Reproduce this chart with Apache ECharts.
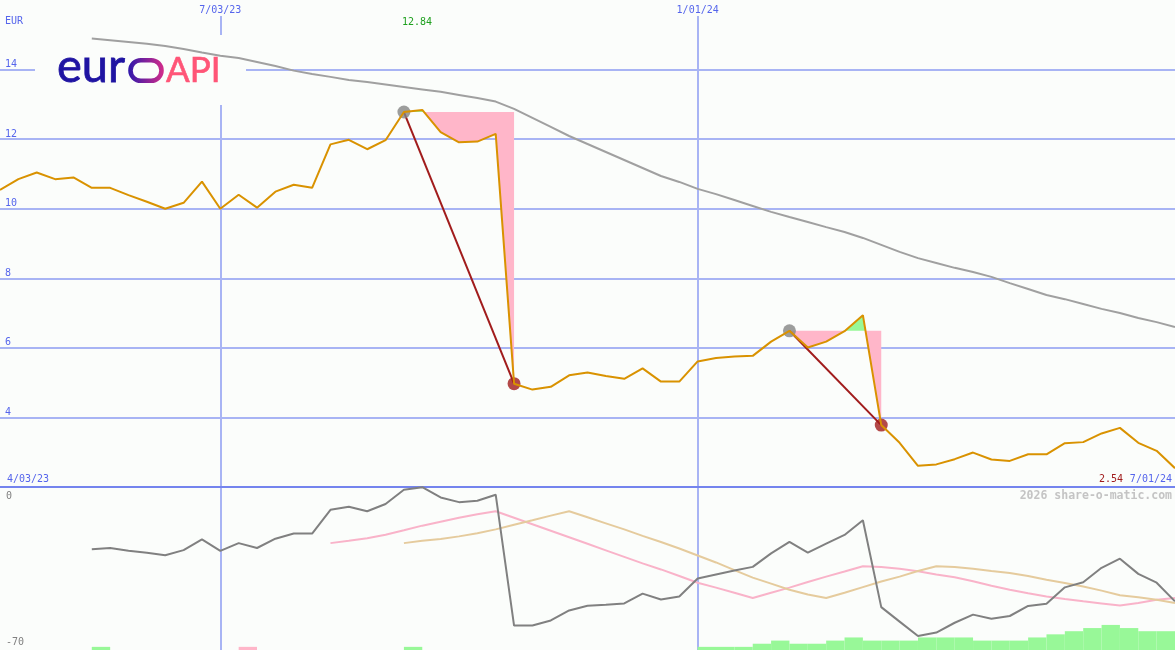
<!DOCTYPE html>
<html>
<head>
<meta charset="utf-8">
<script src="https://cdn.jsdelivr.net/npm/echarts@6/dist/echarts.min.js"></script>
<style>
html,body{margin:0;padding:0;background:#fbfdfb;}
#c{width:1175px;height:650px;}
</style>
</head>
<body>
<div id="c"></div>
<script>
// ---- data ----
const weeks = [
 '4/10/23','4/17/23','4/24/23','5/01/23','5/08/23','5/15/23','5/22/23','5/29/23','6/05/23','6/12/23',
 '6/19/23','6/26/23','7/03/23','7/10/23','7/17/23','7/24/23','7/31/23','8/07/23','8/14/23','8/21/23',
 '8/28/23','9/04/23','9/11/23','9/18/23','9/25/23','10/02/23','10/09/23','10/16/23','10/23/23','10/30/23',
 '11/06/23','11/13/23','11/20/23','11/27/23','12/04/23','12/11/23','12/18/23','12/25/23','1/01/24','1/08/24',
 '1/15/24','1/22/24','1/29/24','2/05/24','2/12/24','2/19/24','2/26/24','3/04/24','3/11/24','3/18/24',
 '3/25/24','4/01/24','4/08/24','4/15/24','4/22/24','4/29/24','5/06/24','5/13/24','5/20/24','5/27/24',
 '6/03/24','6/10/24','6/17/24','6/24/24','7/01/24'
];
const dateTicks = ['7/03/23', '1/01/24'];

const price = [
 10.54,10.85,11.04,10.85,10.90,10.60,10.60,10.39,10.20,10.00,
 10.17,10.78,10.00,10.40,10.03,10.49,10.69,10.60,11.85,11.98,
 11.71,11.97,12.78,12.84,12.20,11.91,11.93,12.15,4.97,4.80,
 4.88,5.21,5.29,5.19,5.11,5.41,5.03,5.03,5.61,5.71,
 5.75,5.77,6.18,6.49,6.01,6.18,6.48,6.94,3.78,3.27,
 2.61,2.65,2.80,2.99,2.79,2.75,2.94,2.94,3.26,3.29,
 3.54,3.70,3.27,3.04,2.54
];

const longAvgStart = 5;
const longAvg = [
 14.89,14.84,14.79,14.74,14.68,14.59,14.49,14.40,14.33,14.22,
 14.10,13.97,13.87,13.79,13.70,13.64,13.57,13.50,13.43,13.36,
 13.27,13.18,13.08,12.87,12.61,12.35,12.09,11.86,11.63,11.40,
 11.17,10.94,10.77,10.57,10.42,10.25,10.08,9.91,9.76,9.62,
 9.47,9.33,9.16,8.96,8.76,8.58,8.44,8.30,8.18,8.04,
 7.86,7.69,7.52,7.40,7.26,7.12,7.00,6.86,6.74,6.60
];

const oscStart = 5;
const osc = [
 -26.7,-26.2,-27.4,-28.2,-29.3,-27.1,-22.5,-27.4,-24.1,-26.2,
 -22.2,-20.0,-20.0,-9.8,-8.5,-10.4,-7.3,-1.2,-0.1,-4.5,
 -6.5,-5.9,-3.3,-59.5,-59.5,-57.3,-53.0,-51.0,-50.6,-50.0,
 -45.8,-48.3,-47.0,-39.3,-37.6,-35.9,-34.3,-28.5,-23.6,-28.2,
 -24.3,-20.6,-14.3,-51.6,-57.8,-64.0,-62.5,-58.3,-54.8,-56.6,
 -55.4,-51.1,-50.1,-43.1,-40.9,-34.7,-30.8,-37.3,-41.1,-49.1
];

const oscFastStart = 18;
const oscFast = [
 -24.1,-23.1,-22.0,-20.5,-18.6,-16.6,-14.9,-13.2,-11.7,-10.4,
 -13.2,-16.0,-18.8,-21.6,-24.4,-27.2,-30.0,-32.8,-35.4,-38.2,
 -41.1,-43.2,-45.4,-47.7,-45.4,-43.2,-40.8,-38.5,-36.3,-34.0,
 -34.4,-35.1,-36.2,-37.6,-38.8,-40.5,-42.4,-44.1,-45.6,-47.0,
 -48.1,-49.1,-50.0,-50.9,-49.8,-48.4,-47.7
];

const oscSlowStart = 22;
const oscSlow = [
 -24.1,-23.1,-22.3,-21.2,-19.9,-18.2,-16.2,-14.3,-12.3,-10.4,
 -13.0,-15.6,-18.2,-21.0,-23.6,-26.4,-29.4,-32.4,-35.7,-38.9,
 -41.5,-44.1,-46.2,-47.7,-45.4,-43.0,-40.6,-38.5,-36.1,-34.0,
 -34.4,-35.1,-36.1,-36.9,-38.2,-39.8,-41.2,-42.7,-44.5,-46.5,
 -47.3,-48.4,-49.8
];

// signal histogram per week interval (positive = green, negative = pink)
const signalBars = [
 0,0,0,0,0,1,0,0,0,0,
 0,0,0,-1,0,0,0,0,0,0,
 0,0,1,0,0,0,0,0,0,0,
 0,0,0,0,0,0,0,0,1,1,
 1,2,3,2,2,3,4,3,3,3,
 4,4,4,3,3,3,4,5,6,7,
 8,7,6,6
];

// trades: entry week index, exit week index
const trades = [
 {entry: 22, exit: 28},
 {entry: 43, exit: 48}
];

const maxLabel = '12.84';
const lastLabel = '2.54';
const startLabel = '4/03/23';
const endLabel = '7/01/24';

// ---- helpers ----
function pad(start, arr) {
  const out = new Array(start).fill(null);
  return out.concat(arr);
}

const BG = '#fbfdfb';
const GRID = '#a8b4f4';
const SEP = '#7484ee';
const BLUE = '#5565ec';
const MONO = '"DejaVu Sans Mono", monospace';

function renderFill(params, api) {
  const t = trades[params.dataIndex];
  const L = price[t.entry];
  const below = [api.coord([t.entry, L])];
  const above = [api.coord([t.entry, L])];
  for (let i = t.entry; i <= t.exit; i++) {
    if (i > t.entry) {
      const p0 = price[i - 1], p1 = price[i];
      if ((p0 - L) * (p1 - L) < 0) {
        const a = api.coord([i - 1, p0]);
        const b = api.coord([i, p1]);
        const f = (L - p0) / (p1 - p0);
        const c = [a[0] + (b[0] - a[0]) * f, a[1] + (b[1] - a[1]) * f];
        below.push(c); above.push(c);
      }
    }
    const p = price[i];
    below.push(api.coord([i, Math.min(p, L)]));
    above.push(api.coord([i, Math.max(p, L)]));
  }
  below.push(api.coord([t.exit, L]));
  above.push(api.coord([t.exit, L]));
  return {
    type: 'group',
    children: [
      {type: 'polygon', shape: {points: below}, style: {fill: '#ffb6c9'}},
      {type: 'polygon', shape: {points: above}, style: {fill: '#98f898'}}
    ]
  };
}

const tradeLineSeries = trades.map(t => ({
  type: 'line', xAxisIndex: 1, yAxisIndex: 1,
  data: [[t.entry, price[t.entry]], [t.exit, price[t.exit]]],
  symbol: 'none', lineStyle: {color: '#a11c1c', width: 2}, z: 3, silent: true
}));

const chart = echarts.init(document.getElementById('c'), null, {renderer: 'canvas'});
const option = {
  animation: false,
  backgroundColor: BG,
  grid: [
    {left: 0, right: 0, top: 16, bottom: 0},
    {left: 0, right: 0, top: 0, height: 487},
    {left: 0, right: 0, top: 487, bottom: 0},
    {left: 0, right: 0, top: 487, bottom: 0}
  ],
  xAxis: [
    {gridIndex: 0, type: 'category', data: weeks, boundaryGap: false, position: 'top',
     axisLine: {show: false}, axisTick: {show: false},
     axisLabel: {interval: (i, v) => dateTicks.indexOf(v) >= 0, margin: 1, color: BLUE,
                 fontFamily: MONO, fontSize: 10},
     splitLine: {show: true, interval: (i, v) => dateTicks.indexOf(v) >= 0,
                 lineStyle: {color: GRID, width: 2}}},
    {gridIndex: 1, type: 'category', data: weeks, boundaryGap: false,
     axisLine: {show: true, onZero: false, lineStyle: {color: SEP, width: 2}},
     axisTick: {show: false}, axisLabel: {show: false}, splitLine: {show: false}},
    {gridIndex: 2, type: 'category', data: weeks, boundaryGap: false, show: false},
    {gridIndex: 3, type: 'category', data: weeks.slice(0, 64), boundaryGap: true, show: false}
  ],
  yAxis: [
    {gridIndex: 0, type: 'value', min: 0, max: 1, show: false},
    {gridIndex: 1, type: 'value', min: 2, max: 16, interval: 2,
     axisLine: {show: false}, axisTick: {show: false},
     axisLabel: {inside: true, margin: 5, color: BLUE, fontFamily: MONO, fontSize: 10,
                 verticalAlign: 'bottom', lineHeight: 10, padding: 0,
                 formatter: v => (v === 2 || v === 16) ? '' : String(v)},
     splitLine: {show: true, showMaxLine: false, lineStyle: {color: GRID, width: 2}}},
    {gridIndex: 2, type: 'value', min: -70, max: 0, interval: 70,
     axisLine: {show: false}, axisTick: {show: false}, splitLine: {show: false},
     axisLabel: {inside: true, margin: 6, color: '#808080', fontFamily: MONO, fontSize: 10,
                 verticalAlignMaxLabel: 'top', verticalAlignMinLabel: 'bottom',
                 padding: [4, 0, 3, 0],
                 formatter: v => v === 0 ? '0' : String(v)}},
    {gridIndex: 3, type: 'value', min: 0, max: 52, show: false}
  ],
  series: [
    {type: 'bar', xAxisIndex: 3, yAxisIndex: 3, barCategoryGap: '0%', barGap: '-100%',
     data: signalBars.map(v => v > 0 ? v : 0), itemStyle: {color: '#98f898'}, silent: true},
    {type: 'bar', xAxisIndex: 3, yAxisIndex: 3, barCategoryGap: '0%', barGap: '-100%',
     data: signalBars.map(v => v < 0 ? -v : 0), itemStyle: {color: '#ffb6c9'}, silent: true},
    {type: 'custom', xAxisIndex: 1, yAxisIndex: 1, renderItem: renderFill,
     data: trades.map(t => [t.entry, price[t.entry]]), z: 2, silent: true},
    ...tradeLineSeries,
    {type: 'line', xAxisIndex: 1, yAxisIndex: 1, data: pad(longAvgStart, longAvg),
     symbol: 'none', lineStyle: {color: '#a0a0a0', width: 2}, z: 3, silent: true},
    {type: 'scatter', xAxisIndex: 1, yAxisIndex: 1,
     data: trades.map(t => [t.entry, price[t.entry]]), symbolSize: 13,
     itemStyle: {color: '#858585'}, z: 4, silent: true},
    {type: 'scatter', xAxisIndex: 1, yAxisIndex: 1,
     data: trades.map(t => [t.exit, price[t.exit]]), symbolSize: 13,
     itemStyle: {color: '#a11c1c'}, z: 4, silent: true},
    {type: 'line', xAxisIndex: 1, yAxisIndex: 1, data: price,
     symbol: 'none', lineStyle: {color: '#d99200', width: 2}, z: 5, silent: true},
    {type: 'line', xAxisIndex: 2, yAxisIndex: 2, data: pad(oscFastStart, oscFast),
     symbol: 'none', lineStyle: {color: '#f9b3c9', width: 2}, z: 3, silent: true},
    {type: 'line', xAxisIndex: 2, yAxisIndex: 2, data: pad(oscSlowStart, oscSlow),
     symbol: 'none', lineStyle: {color: '#e5cb9d', width: 2}, z: 3, silent: true},
    {type: 'line', xAxisIndex: 2, yAxisIndex: 2, data: pad(oscStart, osc),
     symbol: 'none', lineStyle: {color: '#808080', width: 2}, z: 4, silent: true}
  ],
  graphic: [
    {type: 'rect', shape: {x: 35, y: 35, width: 211, height: 70}, style: {fill: BG}, z: 1, silent: true},
    {type: 'text', x: 57, y: 66.8, z: 10, style: {text: 'eur', fill: '#1f14a2',
      font: 'normal 47px Lato', verticalAlign: 'middle', align: 'left',
      stroke: '#1f14a2', lineWidth: 0.8}},
    {type: 'rect', shape: {x: 130.5, y: 60.2, width: 31, height: 20.6, r: 10.3}, z: 10,
     style: {fill: 'none', lineWidth: 4.6,
       stroke: new echarts.graphic.LinearGradient(0, 0, 1, 0, [
         {offset: 0, color: '#2e18ab'}, {offset: 1, color: '#d42c8a'}])}},
    {type: 'text', x: 166, y: 70.7, z: 10, style: {text: 'API', fill: '#ff5577',
      font: 'normal 35px Lato', verticalAlign: 'middle', align: 'left',
      stroke: '#ff5577', lineWidth: 0.6}},
    {type: 'text', x: 5, y: 21.5, z: 10, style: {text: 'EUR', fill: BLUE, font: '10px ' + MONO,
      verticalAlign: 'middle', align: 'left'}},
    {type: 'text', x: 417, y: 22, z: 10, style: {text: maxLabel, fill: '#1ea01e', font: '10px ' + MONO,
      verticalAlign: 'middle', align: 'center'}},
    {type: 'text', x: 7, y: 479, z: 10, style: {text: startLabel, fill: BLUE, font: '10px ' + MONO,
      verticalAlign: 'middle', align: 'left'}},
    {type: 'text', x: 1123, y: 479, z: 10, style: {text: lastLabel, fill: '#a11c1c', font: '10px ' + MONO,
      verticalAlign: 'middle', align: 'right'}},
    {type: 'text', x: 1172, y: 479, z: 10, style: {text: endLabel, fill: BLUE, font: '10px ' + MONO,
      verticalAlign: 'middle', align: 'right'}},
    {type: 'text', x: 1172, y: 496, z: 10, style: {text: '2026 share-o-matic.com', fill: '#c4c4c4',
      font: 'bold 11.5px ' + MONO, verticalAlign: 'middle', align: 'right'}}
  ]
};
chart.setOption(option);
</script>
</body>
</html>
